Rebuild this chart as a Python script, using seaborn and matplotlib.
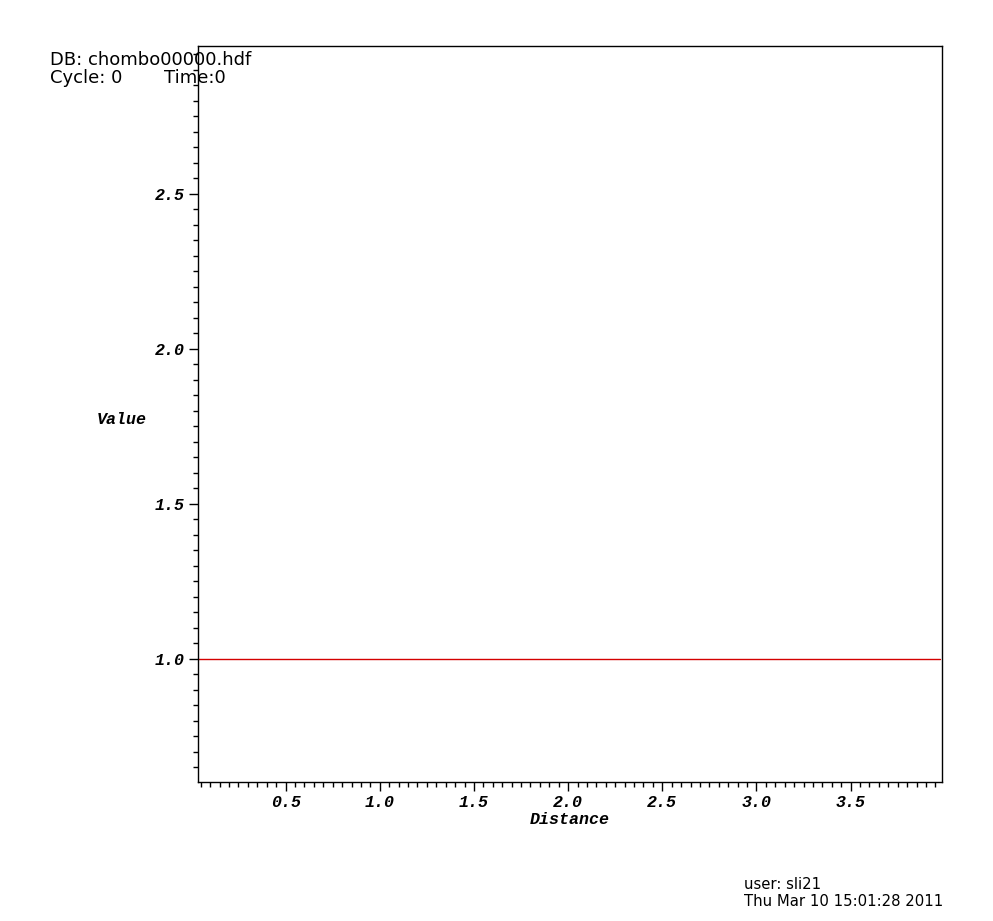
import matplotlib
matplotlib.use("Agg")
import matplotlib.pyplot as plt
from matplotlib.ticker import MultipleLocator
import seaborn as sns
import pandas as pd

# Curve data --------------------------------------------------------------
distance = [0.035, 0.5, 1.0, 1.5, 2.0, 2.5, 3.0, 3.5, 3.975]
value = [1.0, 1.0, 1.0, 1.0, 1.0, 1.0, 1.0, 1.0, 1.0]
x_ticks = [0.5, 1.0, 1.5, 2.0, 2.5, 3.0, 3.5]
y_ticks = [1.0, 1.5, 2.0, 2.5]

df = pd.DataFrame({'Distance': distance, 'Value': value})

sns.set_theme(style='white')
plt.rcParams['font.family'] = ['DejaVu Sans']
plt.rcParams['text.color'] = 'black'

fig = plt.figure(figsize=(9.93, 9.21), dpi=100)
ax = fig.add_axes([0.1994, 0.1509, 0.7492, 0.7991])

sns.lineplot(data=df, x='Distance', y='Value', ax=ax, color='#d40000', linewidth=1.0)

ax.set_xlim(0.035, 3.985)
ax.set_ylim(0.603, 2.977)
ax.set_xticks(x_ticks)
ax.set_yticks(y_ticks)
ax.xaxis.set_minor_locator(MultipleLocator(0.05))
ax.yaxis.set_minor_locator(MultipleLocator(0.05))

tickfont = dict(family='Liberation Mono', weight='bold', style='italic', size=12, color='black')
ax.set_xticklabels(['%.1f' % t for t in x_ticks], fontdict=tickfont)
ax.set_yticklabels(['%.1f' % t for t in y_ticks], fontdict=tickfont)
ax.tick_params(which='major', direction='out', length=6.5, width=1, color='black',
               bottom=True, left=True, pad=3)
ax.tick_params(which='minor', direction='out', length=3.5, width=1, color='black',
               bottom=True, left=True)
for s in ax.spines.values():
    s.set_color('black')
    s.set_linewidth(1.0)

ax.set_xlabel('')
ax.set_ylabel('')
fig.text(0.574, 0.110, 'Distance', ha='center', va='center', **tickfont)
fig.text(0.123, 0.544, 'Value', ha='center', va='center', **tickfont)

# Header / footer text
fig.text(0.050, 0.935, 'DB: chombo00000.hdf', fontsize=13, ha='left', va='center')
fig.text(0.050, 0.915, 'Cycle: 0', fontsize=13, ha='left', va='center')
fig.text(0.165, 0.915, 'Time:0', fontsize=13, ha='left', va='center')
fig.text(0.749, 0.040, 'user: sli21', fontsize=10.7, ha='left', va='center')
fig.text(0.749, 0.021, 'Thu Mar 10 15:01:28 2011', fontsize=10.7, ha='left', va='center')

fig.savefig('out.png', dpi=100)
